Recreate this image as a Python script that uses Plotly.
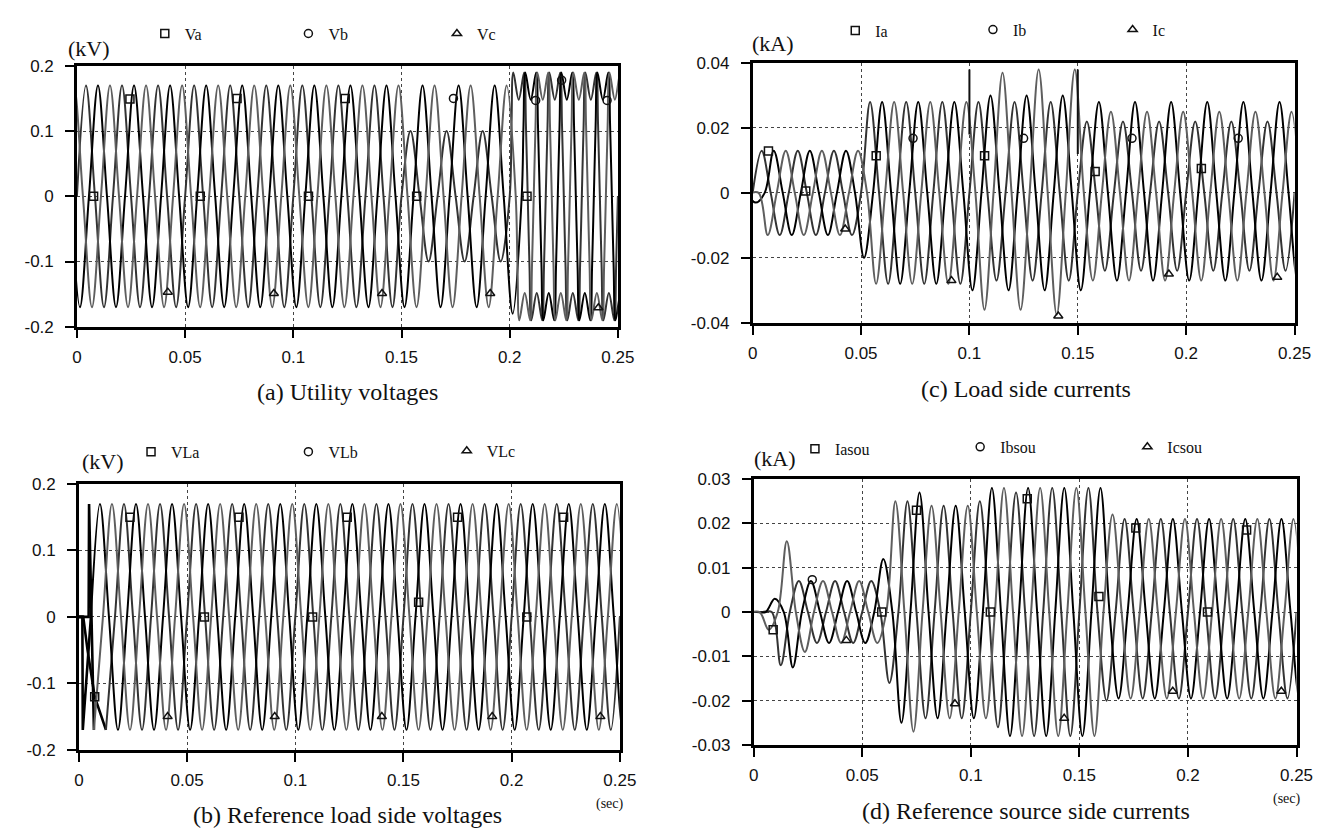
import plotly.graph_objects as go

W, H_PX = 1338, 829
F_HZ = 60.0
LAG_A, LAG_B, LAG_C = 0.0, 120.0, 240.0

# shape of one half-cycle (fraction of half-period, fraction of the extremum)
SINE_X = [0.0, 0.5]
SINE_Y = [0.0, 1.0]
NOTCH_X = [0.0, 0.1, 0.2, 0.5, 0.8, 0.9]
NOTCH_Y = [0.0, 0.58, 1.0, 0.78, 1.0, 0.58]

# extremum magnitudes of successive half-cycles (sign alternates)
# (a) utility voltages, kV
VA = [0.17, 0.17, 0.17, 0.17, 0.17, 0.17, 0.17, 0.17, 0.17, 0.17, 0.17, 0.17, 0.17, 0.17, 0.17,
      0.17, 0.17, 0.17, 0.10, 0.10, 0.10, 0.10, 0.10, 0.10, 0.19, 0.19, 0.19, 0.19, 0.19, 0.19]
VB = [0.17, 0.17, 0.17, 0.17, 0.17, 0.17, 0.17, 0.17, 0.17, 0.17, 0.17, 0.17, 0.17, 0.17, 0.17,
      0.17, 0.17, 0.17, 0.17, 0.17, 0.17, 0.17, 0.17, 0.17, 0.18, 0.19, 0.19, 0.19, 0.19, 0.19, 0.19]
VC = [0.17, 0.17, 0.17, 0.17, 0.17, 0.17, 0.17, 0.17, 0.17, 0.17, 0.17, 0.17, 0.17, 0.17, 0.17,
      0.17, 0.17, 0.17, 0.17, 0.17, 0.17, 0.17, 0.17, 0.17, 0.17, 0.19, 0.19, 0.19, 0.19, 0.19, 0.19]
A_DISTORT_FROM = 0.2

# (b) reference load side voltages, kV
VLA = [0.17, 0.17, 0.17, 0.17, 0.17, 0.17, 0.17, 0.17, 0.17, 0.17, 0.17, 0.17, 0.17, 0.17, 0.17,
       0.17, 0.17, 0.17, 0.17, 0.17, 0.17, 0.17, 0.17, 0.17, 0.17, 0.17, 0.17, 0.17, 0.17, 0.17]
VLB = [0.17, 0.17, 0.17, 0.17, 0.17, 0.17, 0.17, 0.17, 0.17, 0.17, 0.17, 0.17, 0.17, 0.17, 0.17,
       0.17, 0.17, 0.17, 0.17, 0.17, 0.17, 0.17, 0.17, 0.17, 0.17, 0.17, 0.17, 0.17, 0.17, 0.17, 0.17]
VLC = [0.17, 0.17, 0.17, 0.17, 0.17, 0.17, 0.17, 0.17, 0.17, 0.17, 0.17, 0.17, 0.17, 0.17, 0.17,
       0.17, 0.17, 0.17, 0.17, 0.17, 0.17, 0.17, 0.17, 0.17, 0.17, 0.17, 0.17, 0.17, 0.17, 0.17, 0.17]
# start-up transient of (b): time, value, and where the steady wave takes over
VLA_INIT_T = [0.0, 0.002, 0.004, 0.0073]
VLA_INIT_V = [0.0, 0.0, -0.05, -0.12]
VLA_FROM = 0.010
VLB_INIT_T = [0.0, 0.0016, 0.0018]
VLB_INIT_V = [0.0, 0.0, -0.17]
VLB_FROM = 0.004
VLC_INIT_T = [0.0, 0.0045, 0.0047]
VLC_INIT_V = [0.0, 0.0, 0.17]
VLC_FROM = 0.006

# (c) load side currents, kA
IA = [0.013, 0.013, 0.013, 0.013, 0.013, 0.013, 0.028, 0.028, 0.028, 0.028, 0.028, 0.028,
      0.028, 0.027, 0.028, 0.027, 0.028, 0.027, 0.022, 0.024, 0.022, 0.024, 0.022, 0.024,
      0.022, 0.024, 0.022, 0.024, 0.022, 0.024]
IB = [0.003, 0.013, 0.013, 0.013, 0.013, 0.013, 0.020, 0.028, 0.028, 0.028, 0.028, 0.028,
      0.030, 0.030, 0.030, 0.030, 0.030, 0.030, 0.030, 0.028, 0.027, 0.028, 0.027, 0.028,
      0.027, 0.028, 0.027, 0.028, 0.027, 0.028, 0.027]
IC = [0.000, 0.013, 0.013, 0.013, 0.013, 0.013, 0.013, 0.028, 0.028, 0.028, 0.028, 0.028,
      0.028, 0.036, 0.037, 0.036, 0.038, 0.0375, 0.038, 0.027, 0.025, 0.027, 0.025, 0.027,
      0.025, 0.027, 0.025, 0.027, 0.025, 0.027, 0.025]
C_SPIKE_T = [0.1, 0.15]
C_SPIKE_LOW = [0.018, 0.012]
C_SPIKE_HIGH = [0.038, 0.038]

# (d) reference source side currents, kA
ISA = [0.000, 0.012, 0.007, 0.007, 0.007, 0.007, 0.007, 0.016, 0.025, 0.024, 0.024, 0.024,
       0.025, 0.026, 0.027, 0.028, 0.028, 0.028, 0.028, 0.020, 0.021, 0.0195, 0.021, 0.0195,
       0.021, 0.0195, 0.021, 0.0195, 0.021, 0.0195]
ISB = [0.000, 0.003, 0.0125, 0.007, 0.007, 0.007, 0.007, 0.012, 0.025, 0.027, 0.024, 0.024,
       0.024, 0.028, 0.028, 0.028, 0.028, 0.028, 0.028, 0.028, 0.0195, 0.021, 0.0195, 0.021,
       0.0195, 0.021, 0.0195, 0.021, 0.0195, 0.021, 0.0195]
ISC = [0.000, 0.004, 0.016, 0.009, 0.007, 0.007, 0.007, 0.007, 0.025, 0.027, 0.024, 0.024,
       0.024, 0.024, 0.028, 0.028, 0.028, 0.028, 0.028, 0.028, 0.022, 0.0195, 0.021, 0.0195,
       0.021, 0.0195, 0.021, 0.0195, 0.021, 0.0195, 0.021]

# plot symbols placed along the curves (time, value)
A_SQ_T = [0.0077, 0.0245, 0.057, 0.074, 0.107, 0.124, 0.157, 0.208]
A_SQ_V = [0.0, 0.149, 0.0, 0.15, 0.0, 0.15, 0.0, 0.0]
A_CI_T = [0.174, 0.212, 0.224, 0.245]
A_CI_V = [0.15, 0.147, 0.178, 0.147]
A_TR_T = [0.042, 0.091, 0.141, 0.191, 0.241]
A_TR_V = [-0.147, -0.149, -0.149, -0.149, -0.171]

B_SQ_T = [0.0073, 0.0236, 0.058, 0.074, 0.108, 0.124, 0.157, 0.175, 0.207, 0.224]
B_SQ_V = [-0.12, 0.15, 0.0, 0.15, 0.0, 0.15, 0.022, 0.15, 0.0, 0.15]
B_CI_T = []
B_CI_V = []
B_TR_T = [0.041, 0.0905, 0.14, 0.191, 0.241]
B_TR_V = [-0.15, -0.15, -0.15, -0.15, -0.15]

C_SQ_T = [0.0073, 0.0245, 0.057, 0.107, 0.158, 0.207]
C_SQ_V = [0.0129, 0.0006, 0.0114, 0.0114, 0.0066, 0.0075]
C_CI_T = [0.074, 0.125, 0.175, 0.224]
C_CI_V = [0.0168, 0.0168, 0.0168, 0.0168]
C_TR_T = [0.0427, 0.0917, 0.141, 0.192, 0.242]
C_TR_V = [-0.0111, -0.027, -0.0379, -0.025, -0.026]

D_SQ_T = [0.009, 0.059, 0.075, 0.109, 0.126, 0.159, 0.176, 0.209, 0.227]
D_SQ_V = [-0.004, 0.0, 0.023, 0.0, 0.0256, 0.0035, 0.019, 0.0, 0.0185]
D_CI_T = [0.027]
D_CI_V = [0.0073]
D_TR_T = [0.0427, 0.0927, 0.143, 0.193, 0.243]
D_TR_V = [-0.0064, -0.0207, -0.024, -0.0179, -0.0179]

X_TICKS = [0, 0.05, 0.1, 0.15, 0.2, 0.25]
X_TICK_TEXT = ["0", "0.05", "0.1", "0.15", "0.2", "0.25"]
V_TICKS = [-0.2, -0.1, 0, 0.1, 0.2]
V_TICK_TEXT = ["-0.2", "-0.1", "0", "0.1", "0.2"]
IC_TICKS = [-0.04, -0.02, 0, 0.02, 0.04]
IC_TICK_TEXT = ["-0.04", "-0.02", "0", "0.02", "0.04"]
ID_TICKS = [-0.03, -0.02, -0.01, 0, 0.01, 0.02, 0.03]
ID_TICK_TEXT = ["-0.03", "-0.02", "-0.01", "0", "0.01", "0.02", "0.03"]

PANELS = {
    "a": dict(names=["Va", "Vb", "Vc"], caption="(a) Utility voltages", unit="(kV)"),
    "c": dict(names=["Ia", "Ib", "Ic"], caption="(c) Load side currents", unit="(kA)"),
    "b": dict(names=["VLa", "VLb", "VLc"], caption="(b) Reference load side voltages", unit="(kV)"),
    "d": dict(names=["Iasou", "Ibsou", "Icsou"], caption="(d) Reference source side currents", unit="(kA)"),
}

COLORS = ["#333333", "#000000", "#5e5e5e"]
LW = 2.0


def wave(lag_deg, mags, notch_from=None):
    period = 1.0 / F_HZ
    half = period / 2.0
    z0 = lag_deg / 360.0 * period
    sign = 1.0
    while z0 > 1e-12:
        z0 -= half
        sign = -sign
    ts, vs = [], []
    for k, m in enumerate(mags):
        z = z0 + k * half
        s = sign if k % 2 == 0 else -sign
        if notch_from is not None and z >= notch_from - 1e-9:
            px, py = NOTCH_X, NOTCH_Y
        else:
            px, py = SINE_X, SINE_Y
        for fx, fy in zip(px, py):
            ts.append(z + fx * half)
            vs.append(s * m * fy)
    ts.append(z0 + len(mags) * half)
    vs.append(0.0)
    return ts, vs


fig = go.Figure()
AX = {"a": ("x", "y"), "c": ("x2", "y2"), "b": ("x3", "y3"), "d": ("x4", "y4")}


def add_line(p, ts, vs, color, shape="spline", width=LW):
    xa, ya = AX[p]
    fig.add_trace(go.Scatter(x=ts, y=vs, mode="lines", xaxis=xa, yaxis=ya,
                             line=dict(color=color, width=width, shape=shape, smoothing=1.0),
                             showlegend=False, hoverinfo="skip"))


# (a)
for lag, mags, col in zip([LAG_A, LAG_B, LAG_C], [VA, VB, VC], COLORS):
    t, v = wave(lag, mags, A_DISTORT_FROM)
    add_line("a", t, v, col)

# (b) with start-up transient
for lag, mags, col, it, iv, frm in zip([LAG_A, LAG_B, LAG_C], [VLA, VLB, VLC], COLORS,
                                       [VLA_INIT_T, VLB_INIT_T, VLC_INIT_T],
                                       [VLA_INIT_V, VLB_INIT_V, VLC_INIT_V],
                                       [VLA_FROM, VLB_FROM, VLC_FROM]):
    t, v = wave(lag, mags)
    keep = [i for i, tt in enumerate(t) if tt >= frm]
    ts = [t[i] for i in keep]
    vs = [v[i] for i in keep]
    add_line("b", list(it) + [ts[0]], list(iv) + [vs[0]], "#000000", shape="linear", width=2.6)
    add_line("b", ts, vs, col)

# (c)
for lag, mags, col in zip([LAG_A, LAG_B, LAG_C], [IA, IB, IC], COLORS):
    t, v = wave(lag, mags)
    add_line("c", t, v, col)
sx, sy = [], []
for tt, lo, hi in zip(C_SPIKE_T, C_SPIKE_LOW, C_SPIKE_HIGH):
    sx += [tt, tt, None]
    sy += [lo, hi, None]
add_line("c", sx, sy, "#111111", shape="linear")

# (d)
for lag, mags, col in zip([LAG_A, LAG_B, LAG_C], [ISA, ISB, ISC], COLORS):
    t, v = wave(lag, mags)
    add_line("d", t, v, col)

# symbols and legends
SYMS = ["square-open", "circle-open", "triangle-up-open"]
MARKS = {
    "a": [(A_SQ_T, A_SQ_V), (A_CI_T, A_CI_V), (A_TR_T, A_TR_V)],
    "c": [(C_SQ_T, C_SQ_V), (C_CI_T, C_CI_V), (C_TR_T, C_TR_V)],
    "b": [(B_SQ_T, B_SQ_V), (B_CI_T, B_CI_V), (B_TR_T, B_TR_V)],
    "d": [(D_SQ_T, D_SQ_V), (D_CI_T, D_CI_V), (D_TR_T, D_TR_V)],
}
# legend symbol centres (px)
LEG_POS = {
    "a": [(156, 17), (302, 17), (453, 17)],
    "c": [(858, 14), (998, 13), (1140, 13)],
    "b": [(142, 445), (302, 445), (463, 444)],
    "d": [(817, 442), (985, 440), (1155, 440)],
}

legend_layout = {}
n = 0
for p in ["a", "c", "b", "d"]:
    xa, ya = AX[p]
    for j in range(3):
        n += 1
        key = "legend" if n == 1 else "legend%d" % n
        tt, vv = MARKS[p][j]
        fig.add_trace(go.Scatter(
            x=tt if tt else [None], y=vv if vv else [None], mode="markers", xaxis=xa, yaxis=ya,
            name=PANELS[p]["names"][j], legend=key,
            marker=dict(symbol=SYMS[j], size=8, color="#111111", line=dict(width=1.5, color="#111111")),
            hoverinfo="skip"))
        px, py = LEG_POS[p][j]
        legend_layout[key] = dict(
            x=(px - 22) / W, y=1 - py / H_PX, xanchor="left", yanchor="middle",
            orientation="h", bgcolor="rgba(0,0,0,0)", borderwidth=0,
            font=dict(family="Liberation Serif", size=16, color="#111111"))

DOM = {
    "a": ([65 / W, 615 / W], [1 - 317 / H_PX, 1 - 50 / H_PX]),
    "c": ([752 / W, 1303 / W], [1 - 313 / H_PX, 1 - 47 / H_PX]),
    "b": ([67 / W, 617 / W], [1 - 750 / H_PX, 1 - 478 / H_PX]),
    "d": ([753 / W, 1305 / W], [1 - 745 / H_PX, 1 - 473 / H_PX]),
}
YT = {"a": (V_TICKS, V_TICK_TEXT, [-0.2, 0.2]), "b": (V_TICKS, V_TICK_TEXT, [-0.2, 0.2]),
      "c": (IC_TICKS, IC_TICK_TEXT, [-0.04, 0.04]), "d": (ID_TICKS, ID_TICK_TEXT, [-0.03, 0.03])}

tickfont = dict(family="Liberation Sans", size=17, color="#111111")
axis_common = dict(showline=True, mirror=True, linecolor="#000000", linewidth=2.5,
                   ticks="outside", ticklen=9, tickwidth=2, tickcolor="#000000",
                   showgrid=True, gridcolor="#444444", griddash="dot", gridwidth=1,
                   zeroline=False, tickfont=tickfont)
layout_axes = {}
for p, (xn, yn) in AX.items():
    xkey = "xaxis" if xn == "x" else "xaxis" + xn[1:]
    ykey = "yaxis" if yn == "y" else "yaxis" + yn[1:]
    dx, dy = DOM[p]
    layout_axes[xkey] = dict(domain=dx, range=[0, 0.25], tickvals=X_TICKS, ticktext=X_TICK_TEXT,
                             anchor=yn, ticklabelstandoff=4, **axis_common)
    tv, tt, rg = YT[p]
    layout_axes[ykey] = dict(domain=dy, range=rg, tickvals=tv, ticktext=tt, anchor=xn,
                             ticklabelstandoff=8, **axis_common)

ann = []
UNIT_POS = {"a": (77, 32), "c": (773, 27), "b": (92, 455), "d": (775, 452)}
CAP_POS = {"a": (340, 384), "c": (1030, 381), "b": (340, 817), "d": (1030, 813)}
for p in PANELS:
    ux, uy = UNIT_POS[p]
    ann.append(dict(text=PANELS[p]["unit"], x=ux / W, y=1 - uy / H_PX, xref="paper", yref="paper",
                    showarrow=False, xanchor="center", yanchor="middle",
                    font=dict(family="Liberation Serif", size=22, color="#111111")))
    cx, cy = CAP_POS[p]
    ann.append(dict(text=PANELS[p]["caption"], x=cx / W, y=1 - cy / H_PX, xref="paper", yref="paper",
                    showarrow=False, xanchor="center", yanchor="middle",
                    font=dict(family="Liberation Serif", size=24, color="#111111")))
for sxp, syp in [(607, 805), (1295, 800)]:
    ann.append(dict(text="(sec)", x=sxp / W, y=1 - syp / H_PX, xref="paper", yref="paper",
                    showarrow=False, xanchor="center", yanchor="middle",
                    font=dict(family="Liberation Serif", size=14, color="#111111")))

fig.update_layout(width=W, height=H_PX, margin=dict(l=0, r=0, t=0, b=0),
                  paper_bgcolor="white", plot_bgcolor="white", showlegend=True,
                  annotations=ann, **layout_axes, **legend_layout)

fig.write_html("out.html")
